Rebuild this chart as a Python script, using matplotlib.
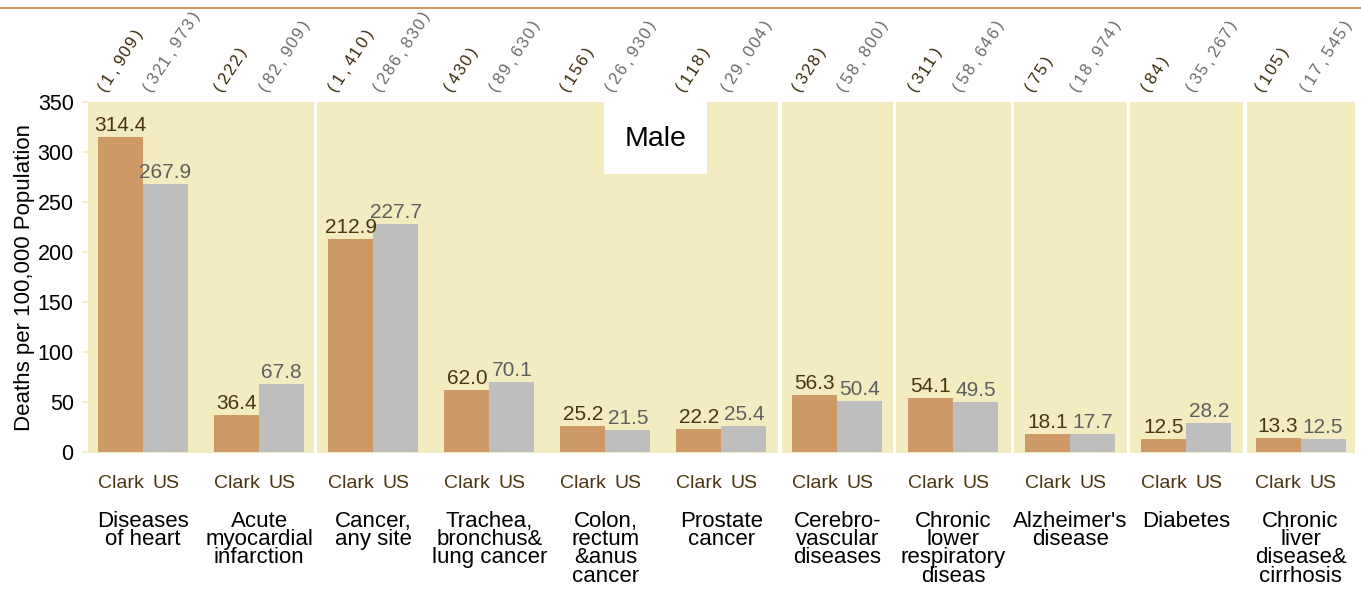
import numpy as np
import matplotlib.pyplot as plt
from matplotlib.patches import Rectangle
from matplotlib.lines import Line2D

plt.rcParams['font.family'] = 'Liberation Sans'

causes = ['Diseases\nof heart', 'Acute\nmyocardial\ninfarction', 'Cancer,\nany site',
          'Trachea,\nbronchus&\nlung cancer', 'Colon,\nrectum\n&anus\ncancer', 'Prostate\ncancer',
          'Cerebro-\nvascular\ndiseases', 'Chronic\nlower\nrespiratory\ndiseas',
          "Alzheimer's\ndisease", 'Diabetes', 'Chronic\nliver\ndisease&\ncirrhosis']
clark = [314.4, 36.4, 212.9, 62.0, 25.2, 22.2, 56.3, 54.1, 18.1, 12.5, 13.3]
us = [267.9, 67.8, 227.7, 70.1, 21.5, 25.4, 50.4, 49.5, 17.7, 28.2, 12.5]
clark_n = ['(1,909)', '(222)', '(1,410)', '(430)', '(156)', '(118)', '(328)', '(311)', '(75)', '(84)', '(105)']
us_n = ['(321,973)', '(82,909)', '(286,830)', '(89,630)', '(26,930)', '(29,004)', '(58,800)',
        '(58,646)', '(18,974)', '(35,267)', '(17,545)']
groups = [2, 4, 1, 1, 1, 1, 1]

# bordas dos paineis em pixels (esquerda, direita)
edges = [(88.3, 313.8), (316.9, 778.0), (781.7, 893.1), (895.9, 1010.7),
         (1013.8, 1126.9), (1129.7, 1243.0), (1246.6, 1354.5)]
unit = 116.0

c_clark = '#CD9966'
c_us = '#BEBEBE'
c_bg = '#F3ECC0'
c_brown = '#4A3510'
c_gray = '#5E5E5E'

W, H = 1361, 590
fig = plt.figure(figsize=(W / 100, H / 100), dpi=100)

bw = 0.388
ang = 57
pitch = 10.8 * 0.72  # passo entre caracteres, em pontos
ca, sa = np.cos(np.radians(ang)), np.sin(np.radians(ang))


def spaced(ax, x, s, color):
    # texto inclinado, um caractere por vez (espacamento fixo)
    for k, ch in enumerate(s):
        d = (k + 0.5) * pitch
        ax.annotate(ch, (x, 1), xycoords=('data', 'axes fraction'),
                    xytext=(-12 + d * ca, 5 + d * sa), textcoords='offset points',
                    rotation=ang, rotation_mode='anchor', ha='center', va='baseline',
                    fontsize=12, color=color, annotation_clip=False)


start = 0
for k, n in enumerate(groups):
    x0, x1 = edges[k]
    ax = fig.add_axes([x0 / W, 1 - 452.5 / H, (x1 - x0) / W, 350.8 / H])
    ax.set_facecolor(c_bg)
    for s in ax.spines.values():
        s.set_visible(False)
    idx = list(range(start, start + n))
    xs = list(range(n))
    ax.bar([x - bw / 2 for x in xs], [clark[i] for i in idx], width=bw, color=c_clark)
    ax.bar([x + bw / 2 for x in xs], [us[i] for i in idx], width=bw, color=c_us)
    pad = ((x1 - x0) / unit - (n - 1)) / 2
    ax.set_xlim(-pad, n - 1 + pad)
    ax.set_ylim(-0.8, 350)
    ticks = []
    labs = []
    for x, i in zip(xs, idx):
        ticks += [x - bw / 2, x + bw / 2]
        labs += ['Clark', 'US']
        ax.annotate(f'{clark[i]:.1f}', (x - bw / 2, clark[i]), xytext=(0, 1.5), textcoords='offset points',
                    ha='center', va='bottom', fontsize=15, color=c_brown)
        ax.annotate(f'{us[i]:.1f}', (x + bw / 2, us[i]), xytext=(0, 1.5), textcoords='offset points',
                    ha='center', va='bottom', fontsize=15, color=c_gray)
        spaced(ax, x - bw / 2, clark_n[i], '#3A2808')
        spaced(ax, x + bw / 2, us_n[i], '#6A6A6A')
        ax.annotate(causes[i], (x, 0), xycoords=('data', 'axes fraction'), xytext=(0, -42),
                    textcoords='offset points', ha='center', va='top', fontsize=16, linespacing=0.83,
                    color='black', annotation_clip=False)
    ax.set_xticks(ticks)
    ax.set_xticklabels(labs, fontsize=14, color=c_brown)
    ax.tick_params(axis='x', length=0, pad=16)
    if k == 0:
        ax.set_yticks(range(0, 351, 50))
        ax.tick_params(axis='y', length=4.5, color=c_bg, width=1.2, labelsize=15.5, pad=6)
        ax.set_ylabel('Deaths per 100,000 Population', fontsize=16, labelpad=2)
    else:
        ax.set_yticks([])
    start += n

# linha superior
fig.add_artist(Line2D([0, 1], [1 - 8 / H, 1 - 8 / H], transform=fig.transFigure, color=c_clark, lw=1.5))

# caixa "Male"
fig.add_artist(Rectangle((604 / W, 1 - 174 / H), 103 / W, 72 / H, transform=fig.transFigure,
                         facecolor='white', edgecolor='none', zorder=5))
fig.text(655.5 / W, 1 - 139 / H, 'Male', ha='center', va='center', fontsize=20.5, zorder=6)

fig.savefig('out.png', dpi=100)
